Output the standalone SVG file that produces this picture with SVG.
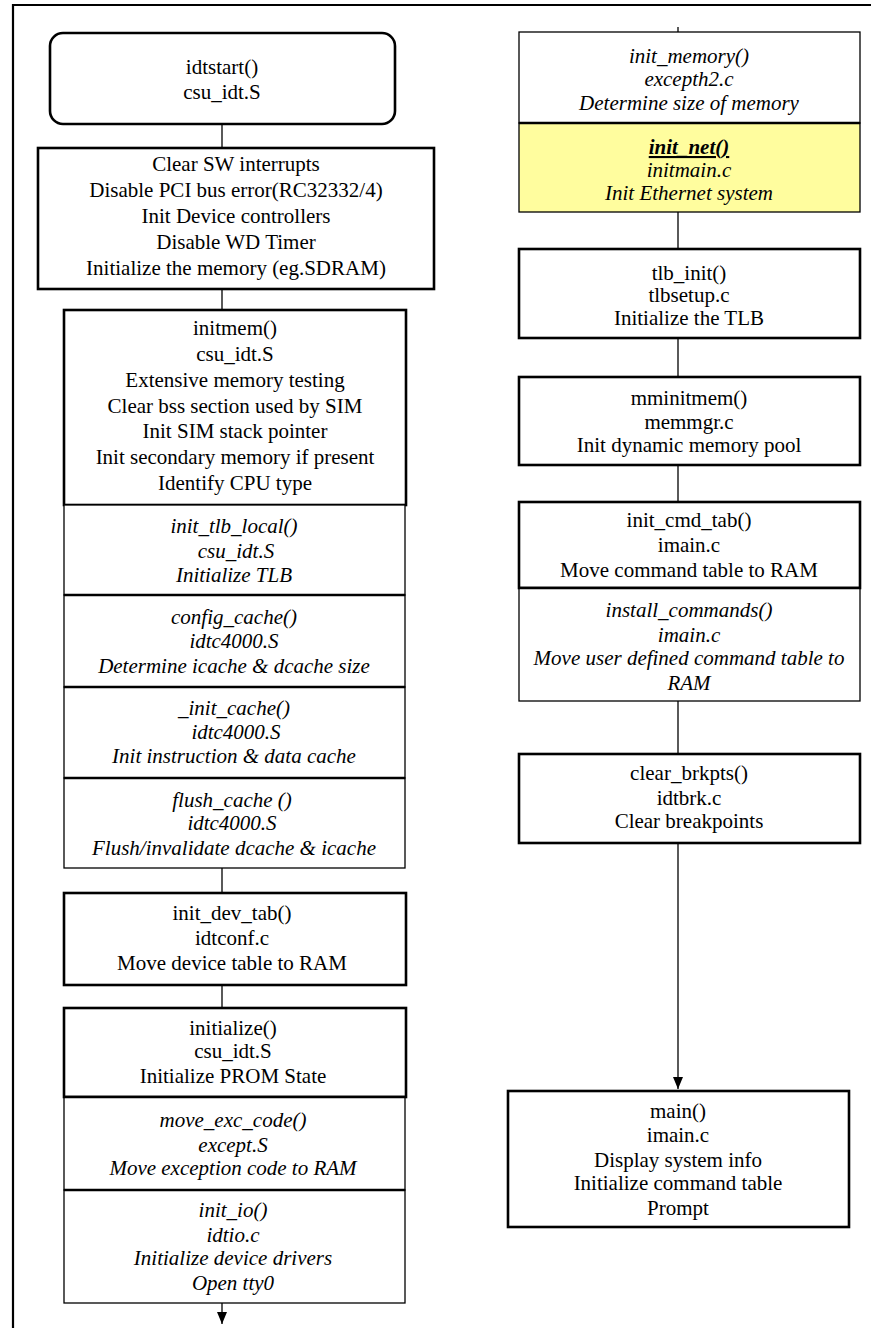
<svg xmlns="http://www.w3.org/2000/svg" width="871" height="1328" viewBox="0 0 871 1328">
<style>
text{font-family:"Liberation Serif","Times New Roman",serif;font-size:21px;fill:#000;text-anchor:middle}
.it{font-style:italic}
.thick{fill:#fff;stroke:#000;stroke-width:2.6}
.thin{fill:#fff;stroke:#000;stroke-width:1.3}
.yel{fill:#FFFD9E;stroke:#000;stroke-width:1.3}
.conn line{stroke:#000;stroke-width:1.3}
</style>
<defs>
<marker id="ah" markerWidth="12" markerHeight="10" refX="12" refY="5" orient="auto" markerUnits="userSpaceOnUse" viewBox="0 0 12 10">
<path d="M0,0 L12,5 L0,10 Z" fill="#000"/>
</marker>
</defs>
<rect width="871" height="1328" fill="#fff"/>
<path d="M13,1328 V5 H871" fill="none" stroke="#000" stroke-width="2.2"/>

<g class="conn">
<line x1="222" y1="124" x2="222" y2="148"/>
<line x1="222" y1="289" x2="222" y2="310"/>
<line x1="222" y1="868" x2="222" y2="893"/>
<line x1="222" y1="985" x2="222" y2="1008"/>
<line x1="222" y1="1303" x2="222" y2="1324" marker-end="url(#ah)"/>
<line x1="678" y1="27" x2="678" y2="32"/>
<line x1="678" y1="212" x2="678" y2="249"/>
<line x1="678" y1="338" x2="678" y2="377"/>
<line x1="678" y1="465" x2="678" y2="502"/>
<line x1="678" y1="701" x2="678" y2="754"/>
<line x1="678" y1="843" x2="678" y2="1089" marker-end="url(#ah)"/>
</g>

<g id="idtstart">
<rect x="50" y="33" width="345" height="91" rx="13" ry="13" class="thick"/>
<text x="222" y="74">idtstart()</text>
<text x="222" y="99">csu_idt.S</text>
</g>

<g id="clear_sw">
<rect x="38" y="148" width="396" height="141" class="thick"/>
<text x="236" y="171">Clear SW interrupts</text>
<text x="236" y="197">Disable PCI bus error(RC32332/4)</text>
<text x="236" y="223">Init Device controllers</text>
<text x="236" y="249">Disable WD  Timer</text>
<text x="236" y="275">Initialize the memory (eg.SDRAM)</text>
</g>

<g id="initmem">
<rect x="64" y="310" width="342" height="195" class="thick"/>
<text x="235" y="335">initmem()</text>
<text x="235" y="361">csu_idt.S</text>
<text x="235" y="387">Extensive memory testing</text>
<text x="235" y="413">Clear bss section used by SIM</text>
<text x="235" y="438">Init SIM stack pointer</text>
<text x="235" y="464">Init secondary memory if present</text>
<text x="235" y="490">Identify CPU type</text>
</g>

<g id="init_tlb_local">
<rect x="64" y="505" width="341" height="90" class="thin"/>
<text class="it" x="234" y="533">init_tlb_local()</text>
<text class="it" x="236" y="558">csu_idt.S</text>
<text class="it" x="234" y="582">Initialize TLB</text>
</g>

<g id="config_cache">
<rect x="64" y="595" width="341" height="92" class="thin"/>
<line x1="64" y1="595" x2="405" y2="595" stroke="#000" stroke-width="2.4"/>
<text class="it" x="234" y="624">config_cache()</text>
<text class="it" x="234" y="648">idtc4000.S</text>
<text class="it" x="234" y="673">Determine icache &amp; dcache size</text>
</g>

<g id="init_cache">
<rect x="64" y="687" width="341" height="91" class="thin"/>
<line x1="64" y1="687" x2="405" y2="687" stroke="#000" stroke-width="2.4"/>
<text class="it" x="234" y="715">_init_cache()</text>
<text class="it" x="236" y="739">idtc4000.S</text>
<text class="it" x="234" y="763">Init instruction &amp; data cache</text>
</g>

<g id="flush_cache">
<rect x="64" y="778" width="341" height="90" class="thin"/>
<line x1="64" y1="778" x2="405" y2="778" stroke="#000" stroke-width="2.4"/>
<text class="it" x="232" y="807">flush_cache ()</text>
<text class="it" x="232" y="830">idtc4000.S</text>
<text class="it" x="234" y="855">Flush/invalidate dcache &amp; icache</text>
</g>

<g id="init_dev_tab">
<rect x="64" y="893" width="342" height="92" class="thick"/>
<text x="232" y="920">init_dev_tab()</text>
<text x="232" y="945">idtconf.c</text>
<text x="232" y="970">Move device table to RAM</text>
</g>

<g id="initialize">
<rect x="64" y="1008" width="342" height="89" class="thick"/>
<text x="233" y="1035">initialize()</text>
<text x="233" y="1058">csu_idt.S</text>
<text x="233" y="1083">Initialize PROM State</text>
</g>

<g id="move_exc_code">
<rect x="64" y="1097" width="341" height="93" class="thin"/>
<line x1="64" y1="1097" x2="405" y2="1097" stroke="#000" stroke-width="2.4"/>
<text class="it" x="233" y="1127">move_exc_code()</text>
<text class="it" x="233" y="1152">except.S</text>
<text class="it" x="233" y="1175">Move exception code to RAM</text>
</g>

<g id="init_io">
<rect x="64" y="1190" width="341" height="113" class="thin"/>
<line x1="64" y1="1190" x2="405" y2="1190" stroke="#000" stroke-width="2.4"/>
<text class="it" x="233" y="1217">init_io()</text>
<text class="it" x="233" y="1242">idtio.c</text>
<text class="it" x="233" y="1265">Initialize device drivers</text>
<text class="it" x="233" y="1290">Open tty0</text>
</g>

<g id="init_memory">
<rect x="519" y="32" width="341" height="91" class="thin"/>
<text class="it" x="689" y="63">init_memory()</text>
<text class="it" x="689" y="86">excepth2.c</text>
<text class="it" x="689" y="110">Determine size of memory</text>
</g>

<g id="init_net">
<rect x="519" y="123" width="341" height="89" class="yel"/>
<line x1="519" y1="123" x2="860" y2="123" stroke="#000" stroke-width="2.4"/>
<text class="it" x="689" y="154" font-weight="bold" text-decoration="underline">init_net()</text>
<text class="it" x="689" y="177">initmain.c</text>
<text class="it" x="689" y="200">Init Ethernet system</text>
</g>

<g id="tlb_init">
<rect x="519" y="249" width="341" height="89" class="thick"/>
<text x="689" y="280">tlb_init()</text>
<text x="689" y="302">tlbsetup.c</text>
<text x="689" y="325">Initialize the TLB</text>
</g>

<g id="mminitmem">
<rect x="519" y="377" width="341" height="88" class="thick"/>
<text x="689" y="405">mminitmem()</text>
<text x="689" y="429">memmgr.c</text>
<text x="689" y="452">Init dynamic memory pool</text>
</g>

<g id="init_cmd_tab">
<rect x="519" y="502" width="341" height="86" class="thick"/>
<text x="689" y="527">init_cmd_tab()</text>
<text x="689" y="552">imain.c</text>
<text x="689" y="577">Move command table to RAM</text>
</g>

<g id="install_commands">
<rect x="519" y="588" width="341" height="113" class="thin"/>
<line x1="519" y1="588" x2="860" y2="588" stroke="#000" stroke-width="2.4"/>
<text class="it" x="689" y="617">install_commands()</text>
<text class="it" x="689" y="642">imain.c</text>
<text class="it" x="689" y="665">Move user defined command table to</text>
<text class="it" x="689" y="690">RAM</text>
</g>

<g id="clear_brkpts">
<rect x="519" y="754" width="341" height="89" class="thick"/>
<text x="689" y="780">clear_brkpts()</text>
<text x="689" y="805">idtbrk.c</text>
<text x="689" y="828">Clear breakpoints</text>
</g>

<g id="main">
<rect x="508" y="1091" width="341" height="136" class="thick"/>
<text x="678" y="1118">main()</text>
<text x="678" y="1142">imain.c</text>
<text x="678" y="1167">Display system info</text>
<text x="678" y="1190">Initialize command table</text>
<text x="678" y="1215">Prompt</text>
</g>
</svg>
